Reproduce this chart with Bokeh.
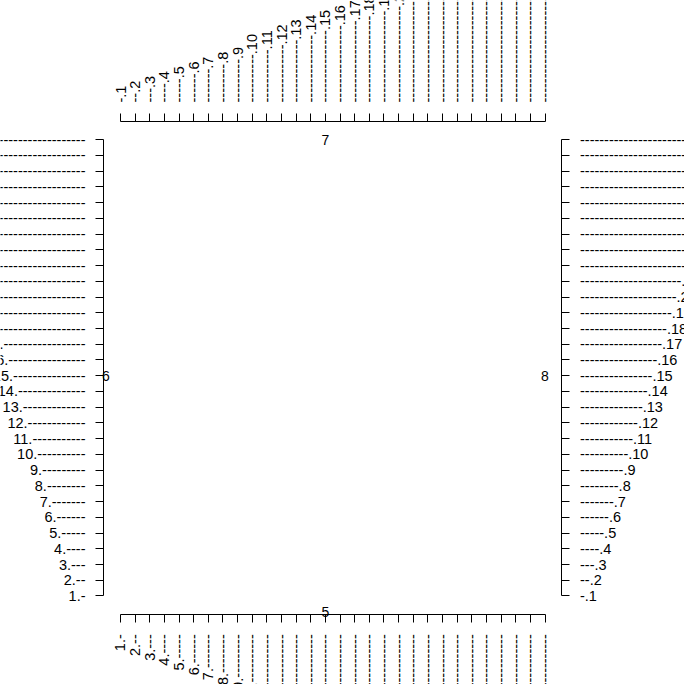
import math
from bokeh.plotting import figure
from bokeh.models import FixedTicker, Range1d, LinearAxis
from bokeh.embed import file_html
from bokeh.resources import INLINE
from bokeh.core.properties import value

# ---- data ----
ticks = list(range(1, 31))
# tick labels on sides 1 (bottom) and 2 (left): "i." followed by i dashes
labels_num_first = [f"{i}." + "-" * i for i in ticks]
# tick labels on sides 3 (top) and 4 (right): i dashes followed by ".i"
labels_dash_first = ["-" * i + f".{i}" for i in ticks]
# texts drawn inside the plot region
side_text = ["5", "6", "7", "8"]
side_text_x = [15, 0, 15, 30]
side_text_y = [0, 15, 30, 15]
# plot-region limits (R style, 4% extension of 1..30)
usr_lo, usr_hi = -0.16, 31.16

FONT = "Liberation Sans"
FS = "14px"
TICK_FS = "14.5px"

W = H = 684
xr = Range1d(-7.198, 39.53)
yr = Range1d(-4.626, 38.85)

p = figure(width=W, height=H, x_range=xr, y_range=yr,
           output_backend="svg", toolbar_location=None,
           x_axis_location=None, y_axis_location=None,
           min_border=0)
p.outline_line_color = None
p.grid.grid_line_color = None
p.background_fill_color = "white"
p.border_fill_color = "white"

specs = [
    ("below", usr_lo, labels_num_first, math.pi / 2, 12),
    ("above", usr_hi, labels_dash_first, math.pi / 2, 11),
    ("left", usr_lo, labels_num_first, "horizontal", 10),
    ("right", usr_hi, labels_dash_first, "horizontal", 10),
]
for loc, fixed, labs, orient, standoff in specs:
    ax = LinearAxis(ticker=FixedTicker(ticks=ticks), bounds=(1, 30),
                    fixed_location=fixed,
                    major_tick_out=8, major_tick_in=0,
                    minor_tick_out=0, minor_tick_in=0,
                    major_label_overrides={t: s for t, s in zip(ticks, labs)},
                    major_label_orientation=orient,
                    major_label_standoff=standoff,
                    major_label_text_font=FONT,
                    major_label_text_font_size=TICK_FS,
                    major_label_text_color="black",
                    axis_line_color="black", axis_line_width=1,
                    major_tick_line_color="black", major_tick_line_width=1)
    p.add_layout(ax, loc)

p.text(x=side_text_x, y=side_text_y, text=side_text,
       text_align="center", text_baseline="middle",
       text_font=value(FONT), text_font_size=FS, text_color="black")

open("out.html", "w").write(file_html(p, INLINE))
